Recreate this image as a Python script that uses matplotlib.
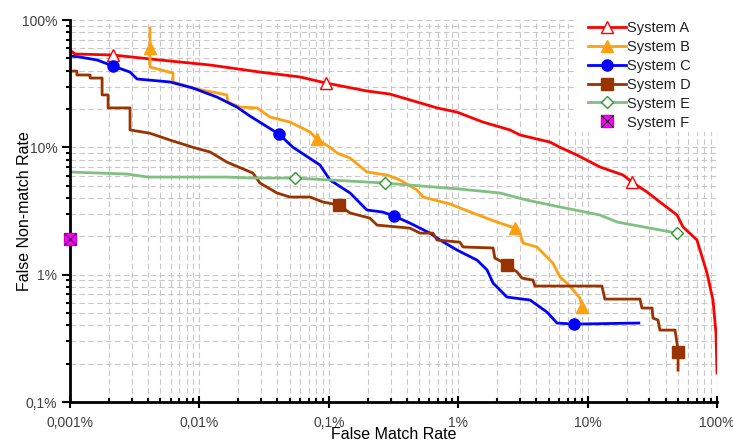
import matplotlib
matplotlib.use("Agg")
import matplotlib.pyplot as plt
from matplotlib.ticker import FixedLocator, FixedFormatter, LogLocator, NullFormatter
from matplotlib.patches import Rectangle

plt.rcParams["font.family"] = ["Liberation Sans", "DejaVu Sans"]

# false match rate (%) / false non-match rate (%)
A_fmr = [0.001, 0.00109, 0.00215, 0.00496, 0.0121, 0.0294, 0.0599, 0.095, 0.197, 0.297, 0.481,
         0.686, 0.98, 1.55, 2.51, 3.0, 5.12, 6.12, 8.28, 12.5, 18.8, 22.0, 28.8, 36.2, 49.1,
         54.6, 70.0, 83.7, 93.1, 98.2, 100]
A_fnmr = [58.1, 54.1, 53.1, 48.5, 44.3, 39.0, 35.7, 32.0, 27.7, 26.2, 22.7,
          20.4, 18.9, 15.8, 13.7, 12.5, 11.0, 10.0, 8.7, 7.0, 6.06, 5.34, 4.46, 3.72, 2.94,
          2.37, 1.87, 1.03, 0.632, 0.348, 0.169]
A_marks = [2, 7, 21]

B_fmr = [0.00415, 0.00415, 0.00415, 0.00625, 0.00625, 0.0096, 0.0163, 0.0166, 0.0206, 0.0279,
         0.0351, 0.0501, 0.0716, 0.0811, 0.102, 0.116, 0.146, 0.197, 0.282, 0.355, 0.481, 0.535,
         0.864, 1.30, 1.99, 2.75, 3.0, 3.17, 4.06, 5.40, 6.12, 6.93, 8.73, 9.05]
B_fnmr = [86.5, 60.3, 42.7, 38.3, 32.6, 28.7, 25.8, 22.7, 20.7, 20.4,
          17.3, 15.8, 13.2, 11.6, 10.0, 9.02, 8.24, 6.40, 6.06, 5.54, 4.62, 4.07,
          3.59, 3.05, 2.59, 2.32, 2.12, 1.77, 1.65, 1.23, 0.958, 0.859, 0.655, 0.557]
B_marks = [1, 13, 25, 33]

C_fmr = [0.001, 0.00119, 0.00162, 0.00215, 0.00291, 0.00330, 0.00593, 0.00892, 0.0137, 0.0195,
         0.0246, 0.0412, 0.0529, 0.0855, 0.102, 0.146, 0.197, 0.262, 0.319, 0.424, 0.605, 0.723,
         0.98, 1.40, 1.67, 1.86, 2.38, 3.59, 4.86, 5.80, 7.85, 24.9]
C_fnmr = [52.2, 51.2, 48.5, 43.5, 39.0, 34.4, 32.6, 29.2, 24.8, 20.7,
          17.6, 12.7, 10.0, 7.26, 5.54, 4.38, 3.22, 3.10, 2.89, 2.54, 2.12, 1.87,
          1.56, 1.30, 1.09, 0.859, 0.667, 0.632, 0.508, 0.417, 0.409, 0.417]
C_marks = [3, 11, 18, 30]

D_fmr = [0.001, 0.00113, 0.00113, 0.00143, 0.00143, 0.00177, 0.00177, 0.00197, 0.00197, 0.00291,
         0.00291, 0.00415, 0.00593, 0.00892, 0.0121, 0.0163, 0.0259, 0.0294, 0.0398, 0.0501,
         0.0716, 0.0902, 0.120, 0.146, 0.208, 0.236, 0.337, 0.424, 0.507, 0.638, 0.686, 1.03,
         1.09, 1.86, 1.92, 2.18, 2.38, 2.85, 3.11, 3.78, 3.92, 12.9, 13.6, 25.4, 26.3, 31.5,
         32.0, 35.0, 36.2, 47.4, 49.1, 50.0, 50.0]
D_fnmr = [39.7, 39.7, 37.0, 37.0, 35.0, 35.0, 25.8, 25.8, 20.4, 20.4,
          13.7, 12.9, 11.4, 10.0, 9.19, 7.66, 6.28, 5.24, 4.38, 4.07,
          4.07, 3.72, 3.52, 3.05, 2.78, 2.45, 2.37, 2.32, 2.12, 2.12, 1.87, 1.80,
          1.65, 1.62, 1.35, 1.26, 1.19, 1.05, 0.94, 0.907, 0.814, 0.814, 0.643, 0.643, 0.547, 0.547,
          0.456, 0.44, 0.367, 0.367, 0.290, 0.247, 0.178]
D_marks = [22, 36, 51]

E_fmr = [0.001, 0.00276, 0.00401, 0.0163, 0.0259, 0.0548, 0.272, 1.03, 2.1, 3.40, 6.12, 12.5,
         16.9, 30.3, 49.1]
E_fnmr = [6.40, 6.17, 5.84, 5.84, 5.74, 5.74, 5.24, 4.70, 4.38, 3.85, 3.40, 2.94,
          2.59, 2.32, 2.12]
E_marks = [5, 6, 14]

F_fmr = [0.001]
F_fnmr = [1.90]

x_ticks = [0.001, 0.01, 0.1, 1, 10, 100]
x_labels = ["0,001%", "0,01%", "0,1%", "1%", "10%", "100%"]
y_ticks = [0.1, 1, 10, 100]
y_labels = ["0,1%", "1%", "10%", "100%"]

fig = plt.figure(figsize=(7.33, 4.41), dpi=100)
ax = fig.add_axes([70 / 733, 1 - 402 / 441, 647 / 733, 382 / 441])
ax.set_xscale("log")
ax.set_yscale("log")
ax.set_xlim(0.001, 100)
ax.set_ylim(0.1, 100)

lw = 2.0
la, = ax.plot(A_fmr, A_fnmr, color="#ff0000", lw=lw, marker="^", ms=8, mfc="white",
              mec="#ff0000", mew=1.0, markevery=A_marks, label="System A")
lb, = ax.plot(B_fmr, B_fnmr, color="#ffa010", lw=lw, marker="^", ms=8, mfc="#ffa010",
              mec="#ffa010", markevery=B_marks, label="System B")
lc, = ax.plot(C_fmr, C_fnmr, color="#0000ff", lw=lw, marker="o", ms=8, mfc="#0000ff",
              mec="#0000ff", markevery=C_marks, label="System C")
ld, = ax.plot(D_fmr, D_fnmr, color="#993300", lw=lw, marker="s", ms=8, mfc="#993300",
              mec="#993300", markevery=D_marks, label="System D")
le, = ax.plot(E_fmr, E_fnmr, color="#80c080", lw=lw, marker="D", ms=6, mfc="white",
              mec="#2e9a2e", mew=1.0, markevery=E_marks, label="System E")
lf1, = ax.plot(F_fmr, F_fnmr, ls="none", marker="s", ms=9, mfc="#ff00ff", mec="#cc00cc",
               clip_on=False, zorder=5)
lf2, = ax.plot(F_fmr, F_fnmr, ls="none", marker="x", ms=8, mec="#202020", mew=0.8,
               clip_on=False, zorder=6)

# grid
ax.set_axisbelow(True)
ax.grid(True, which="both", color="#c8c8c8", ls=(0, (5, 3)), lw=0.8)
ax.add_patch(Rectangle((0.78, 0.707), 0.22, 0.293, transform=ax.transAxes,
                       facecolor="white", edgecolor="none", zorder=1))

# axes
for s in ["top", "right"]:
    ax.spines[s].set_visible(False)
for s in ["left", "bottom"]:
    ax.spines[s].set_linewidth(2.0)
    ax.spines[s].set_color("black")

ax.xaxis.set_major_locator(FixedLocator(x_ticks))
ax.xaxis.set_major_formatter(FixedFormatter(x_labels))
ax.yaxis.set_major_locator(FixedLocator(y_ticks))
ax.yaxis.set_major_formatter(FixedFormatter(y_labels))
ax.xaxis.set_minor_locator(LogLocator(base=10, subs=range(2, 10)))
ax.yaxis.set_minor_locator(LogLocator(base=10, subs=range(2, 10)))
ax.xaxis.set_minor_formatter(NullFormatter())
ax.yaxis.set_minor_formatter(NullFormatter())

ax.tick_params(axis="x", which="major", direction="inout", length=8, width=1.5,
               labelsize=10, labelcolor="#404040", pad=6)
ax.tick_params(axis="x", which="minor", direction="in", length=3, width=1.5)
ax.tick_params(axis="y", which="major", direction="out", length=6, width=1.5,
               labelsize=10, labelcolor="#404040", pad=3)
ax.tick_params(axis="y", which="minor", direction="out", length=3, width=1.5)

ax.set_xlabel("False Match Rate", fontsize=11.5, color="black")
ax.set_ylabel("False Non-match Rate", fontsize=11.5, color="black")
ax.xaxis.set_label_coords(0.5, -0.066)
ax.yaxis.set_label_coords(-0.058, 0.5)

leg = ax.legend([la, lb, lc, ld, le, (lf1, lf2)],
                ["System A", "System B", "System C", "System D", "System E", "System F"],
                loc="upper left", bbox_to_anchor=(0.8, 1.0), frameon=False,
                fontsize=10.5, handlelength=2.55, handletextpad=0.1, labelspacing=0.34,
                borderpad=0.05, borderaxespad=0.0)
for t in leg.get_texts():
    t.set_color("#202020")

fig.savefig("out.png", dpi=100)
